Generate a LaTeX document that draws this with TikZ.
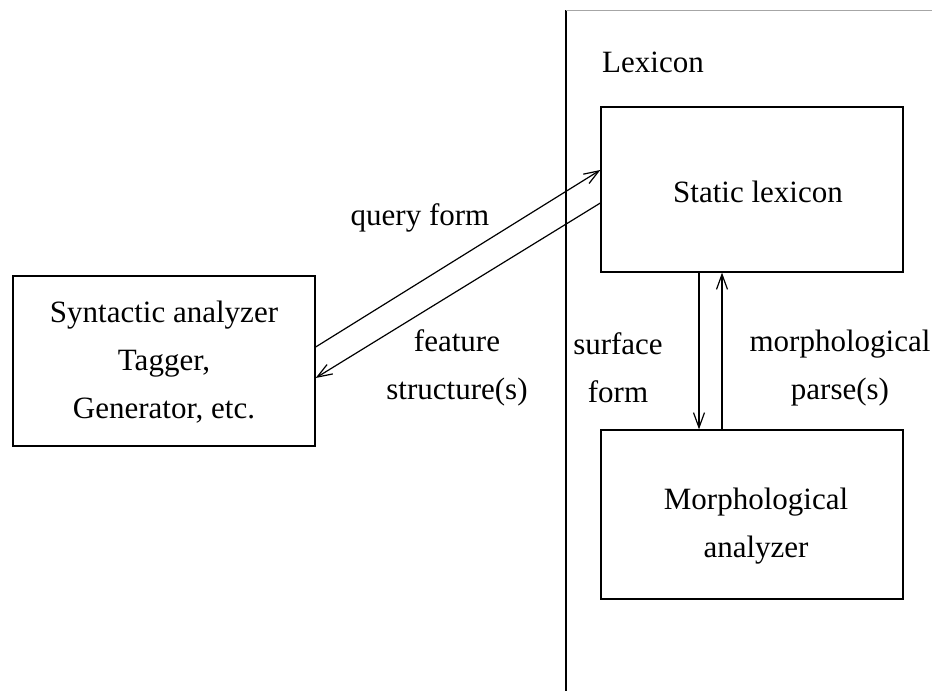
\documentclass[tikz,border=0pt]{standalone}
\usepackage{fontspec}
\setmainfont{Liberation Serif}
\usetikzlibrary{arrows.meta}
\begin{document}
\begin{tikzpicture}[x=1pt,y=-1pt,
  every node/.style={font=\fontsize{31}{48}\selectfont, inner sep=0pt},
  box/.style={draw, line width=1.3pt, align=center},
  lbl/.style={align=center},
  conn/.style={line width=1.2pt, -{Straight Barb[length=15pt,width=11pt,line width=1.2pt]}}]
\useasboundingbox (0,0) rectangle (932,691);
% partition line
\coordinate (pt) at (566,10);
\coordinate (pb) at (566,691);
\coordinate (pr) at (932,10);
\draw[line width=1.3pt] (pt) -- (pb);
\draw[line width=1pt, gray!70] (pt) -- (pr);
% boxes
\node[box, minimum width=302pt, minimum height=170pt] (syn) at (164,361) {};
\node[lbl] (syntxt) at (164,362) {Syntactic analyzer\\Tagger,\\Generator, etc.};
\node[box, minimum width=302pt, minimum height=165pt] (stat) at (752,189.5) {};
\node[lbl] (stattxt) at (758,192) {Static lexicon};
\node[box, minimum width=302pt, minimum height=169pt] (morph) at (752,514.5) {};
\node[lbl] (morphtxt) at (756,526) {Morphological\\analyzer};
% labels
\node[lbl] (lex) at (653,62) {Lexicon};
\node[lbl] (qf) at (420,218) {query form};
\node[lbl] (fs) at (457,368) {feature\\structure(s)};
\node[lbl] (sf) at (618,368) {surface\\form};
\node[lbl] (mp) at (840,368) {morphological\\parse(s)};
% connectors
\draw[conn] ([yshift=14pt]syn.east) -- ([yshift=19.5pt]stat.west);
\draw[conn] ([yshift=-13.5pt]stat.west) -- ([yshift=-17pt]syn.east);
\draw[conn] ([xshift=-53pt]stat.south) -- ([xshift=-53pt]morph.north);
\draw[conn] ([xshift=-30pt]morph.north) -- ([xshift=-30pt]stat.south);
\end{tikzpicture}
\end{document}
